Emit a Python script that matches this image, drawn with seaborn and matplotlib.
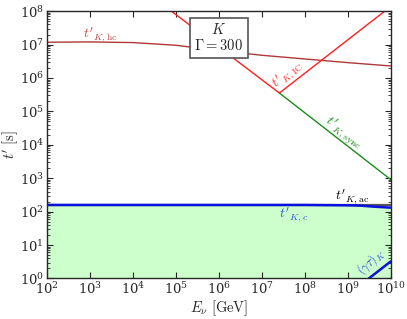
import numpy as np
import pandas as pd
import matplotlib
matplotlib.use("Agg")
import matplotlib.pyplot as plt
import seaborn as sns

# curves (log10 of energy in GeV and of time in s)
hc_logE = [2, 3, 4, 5, 6, 7, 8, 9, 10]
hc_logt = [7.07, 7.08, 7.06, 6.98, 6.82, 6.68, 6.57, 6.46, 6.36]
ic_logE = [4.6, 7.41, 10]
ic_logt = [8.29, 5.55, 8.14]
sync_logE = [7.41, 10]
sync_logt = [5.55, 2.96]
ac_logE = [2, 10]
ac_logt = [2.21, 2.21]
c_logE = [2, 8, 9, 9.3, 9.6, 10]
c_logt = [2.20, 2.20, 2.19, 2.18, 2.15, 2.12]
gt_logE = [9.49, 10]
gt_logt = [0.0, 0.51]

sns.set_style("ticks")
plt.rcParams["mathtext.fontset"] = "cm"
plt.rcParams["font.family"] = ["DejaVu Serif"]

def frame(le, lt):
    return pd.DataFrame({"E": 10.0 ** np.array(le), "t": 10.0 ** np.array(lt)})

fig, ax = plt.subplots(figsize=(4.07, 3.19), dpi=100)

c_df = frame(c_logE, c_logt)
ax.fill_between(c_df["E"], 1, c_df["t"], color="#ccffcc", lw=0, zorder=0)

sns.lineplot(data=frame(hc_logE, hc_logt), x="E", y="t", color="#b03838", lw=1.0, ax=ax)
sns.lineplot(data=frame(ic_logE, ic_logt), x="E", y="t", color="#ff1f1f", lw=1.0, ax=ax)
sns.lineplot(data=frame(sync_logE, sync_logt), x="E", y="t", color="#1a8c1a", lw=1.0, ax=ax)
sns.lineplot(data=frame(ac_logE, ac_logt), x="E", y="t", color="#555555", lw=1.6, ax=ax)
sns.lineplot(data=c_df, x="E", y="t", color="#0a10e0", lw=1.8, ax=ax)
sns.lineplot(data=frame(gt_logE, gt_logt), x="E", y="t", color="#0a10e0", lw=1.8, ax=ax)

ax.set(xscale="log", yscale="log")
ax.set_xlim(1e2, 1e10)
ax.set_ylim(1e0, 1e8)
ax.set_xticks([10.0 ** k for k in range(2, 11)])
ax.set_yticks([10.0 ** k for k in range(0, 9)])
ax.tick_params(which="both", direction="in", top=True, right=True, labelsize=9.5, pad=2)
ax.tick_params(which="major", length=4)
ax.tick_params(which="minor", length=2)
for s in ax.spines.values():
    s.set_linewidth(1.0)
ax.set_xlabel(r"$E_\nu\ [\mathrm{GeV}]$", fontsize=10.5, labelpad=1)
ax.set_ylabel(r"$t'\ [\mathrm{s}]$", fontsize=10.5, labelpad=0)

ax.text(10 ** 3.25, 10 ** 7.3, r"$t'_{K,\mathrm{hc}}$", color="#c04848", fontsize=10, ha="center", va="center")
ax.text(10 ** 7.6, 10 ** 6.1, r"$t'_{K,\mathrm{IC}}$", color="#ff3030", fontsize=10, ha="center", va="center", rotation=40)
ax.text(10 ** 8.9, 10 ** 4.35, r"$t'_{K,\mathrm{sync}}$", color="#1a8c1a", fontsize=10, ha="center", va="center", rotation=-36)
ax.text(10 ** 9.1, 10 ** 2.45, r"$t'_{K,\mathrm{ac}}$", color="black", fontsize=10, ha="center", va="center")
ax.text(10 ** 7.75, 10 ** 1.9, r"$t'_{K,c}$", color="#3050e0", fontsize=10, ha="center", va="center")
ax.text(10 ** 9.55, 10 ** 0.5, r"$(\gamma\tau)_K$", color="#3050e0", fontsize=9, ha="center", va="center", rotation=42)
ax.text(10 ** 6.0, 10 ** 7.2, "$K$\n$\\Gamma = 300$", fontsize=10.5, ha="center", va="center", linespacing=1.1,
        bbox=dict(boxstyle="square,pad=0.3", fc="white", ec="#555555", lw=1.2))

fig.subplots_adjust(left=0.115, right=0.96, top=0.965, bottom=0.127)
fig.savefig("out.png", dpi=100)
